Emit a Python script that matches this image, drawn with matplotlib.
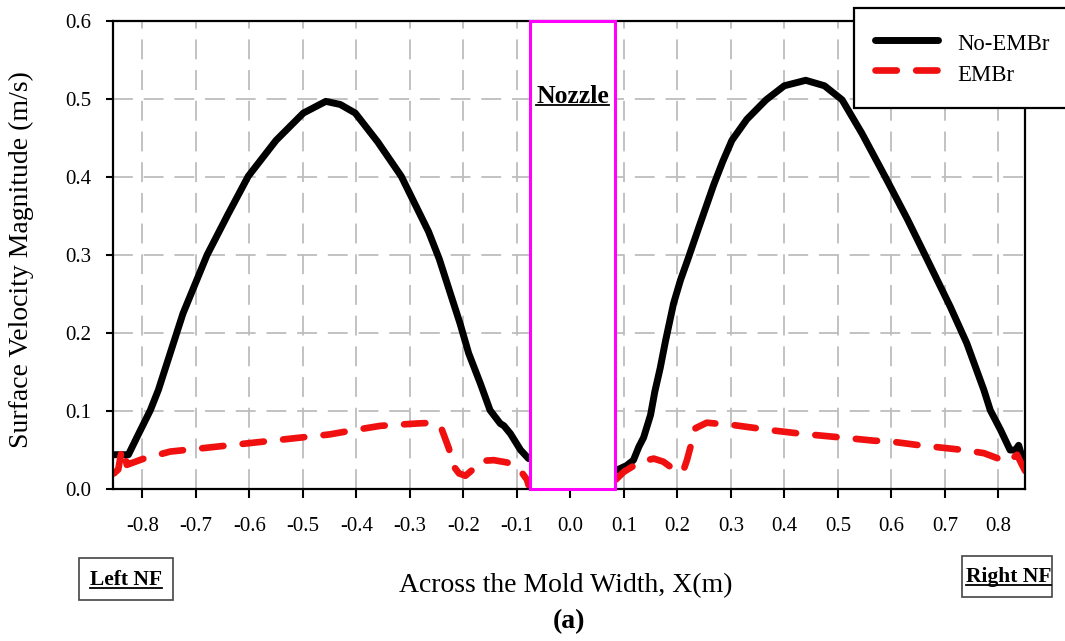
import matplotlib
matplotlib.use("Agg")
import matplotlib.pyplot as plt
from matplotlib.patches import Rectangle
from matplotlib.lines import Line2D

plt.rcParams["font.family"] = ["Liberation Serif", "DejaVu Serif"]
plt.rcParams["axes.unicode_minus"] = False

# --- data ---
no_embr_left_x = [-0.853, -0.826, -0.806, -0.785, -0.770, -0.724, -0.679, -0.640, -0.602,
                  -0.550, -0.499, -0.457, -0.430, -0.402, -0.360, -0.316, -0.265, -0.245,
                  -0.222, -0.206, -0.190, -0.168, -0.150, -0.131, -0.124, -0.112, -0.093, -0.078]
no_embr_left_y = [0.044, 0.044, 0.072, 0.101, 0.127, 0.225, 0.300, 0.352, 0.401,
                  0.447, 0.482, 0.497, 0.493, 0.482, 0.445, 0.401, 0.330, 0.295,
                  0.246, 0.212, 0.174, 0.135, 0.101, 0.084, 0.081, 0.071, 0.050, 0.039]

no_embr_right_x = [0.086, 0.105, 0.118, 0.128, 0.137, 0.150, 0.158, 0.168, 0.178, 0.193,
                   0.206, 0.220, 0.240, 0.268, 0.285, 0.302, 0.330, 0.366, 0.400, 0.440,
                   0.475, 0.508, 0.545, 0.588, 0.630, 0.663, 0.710, 0.741, 0.773, 0.785,
                   0.804, 0.822, 0.832, 0.838, 0.845, 0.850]
no_embr_right_y = [0.024, 0.030, 0.037, 0.054, 0.066, 0.095, 0.125, 0.155, 0.190, 0.238,
                   0.268, 0.295, 0.335, 0.390, 0.420, 0.447, 0.474, 0.499, 0.517, 0.524,
                   0.517, 0.499, 0.456, 0.401, 0.346, 0.300, 0.234, 0.187, 0.127, 0.101,
                   0.076, 0.050, 0.050, 0.056, 0.040, 0.033]

embr_left_x = [-0.853, -0.845, -0.838, -0.833, -0.829, -0.797, -0.748, -0.692, -0.611,
               -0.517, -0.450, -0.400, -0.355, -0.287, -0.255, -0.240, -0.227, -0.218,
               -0.208, -0.196, -0.184, -0.168, -0.143, -0.118, -0.097, -0.081, -0.078]
embr_left_y = [0.020, 0.025, 0.052, 0.045, 0.031, 0.039, 0.048, 0.052, 0.058,
               0.065, 0.070, 0.076, 0.081, 0.084, 0.085, 0.076, 0.052, 0.029,
               0.020, 0.017, 0.024, 0.036, 0.037, 0.034, 0.027, 0.012, 0.005]

embr_right_x = [0.085, 0.100, 0.131, 0.156, 0.174, 0.202, 0.212, 0.218, 0.234, 0.255,
                0.305, 0.380, 0.430, 0.523, 0.567, 0.598, 0.654, 0.735, 0.773, 0.816,
                0.828, 0.835, 0.845, 0.854]
embr_right_y = [0.012, 0.022, 0.035, 0.039, 0.035, 0.021, 0.025, 0.037, 0.078, 0.085,
                0.082, 0.075, 0.071, 0.065, 0.062, 0.061, 0.056, 0.050, 0.046, 0.035,
                0.040, 0.044, 0.030, 0.018]

x_ticks = [-0.8, -0.7, -0.6, -0.5, -0.4, -0.3, -0.2, -0.1, 0.0, 0.1, 0.2, 0.3, 0.4, 0.5, 0.6, 0.7, 0.8]
x_tick_labels = ["-0.8", "-0.7", "-0.6", "-0.5", "-0.4", "-0.3", "-0.2", "-0.1", "0.0",
                 "0.1", "0.2", "0.3", "0.4", "0.5", "0.6", "0.7", "0.8"]
y_ticks = [0.0, 0.1, 0.2, 0.3, 0.4, 0.5, 0.6]
y_tick_labels = ["0.0", "0.1", "0.2", "0.3", "0.4", "0.5", "0.6"]
nozzle_span = (-0.076, 0.084)

W_PX, H_PX = 1065, 641
fig = plt.figure(figsize=(W_PX / 100, H_PX / 100), dpi=100)
ax = fig.add_axes([0.106, 0.2371, 0.8565, 0.7301])

black_kw = dict(color="black", lw=5, solid_capstyle="round", solid_joinstyle="round")
red_kw = dict(color="#f01010", lw=4.8, dashes=(3.2, 2.9), dash_capstyle="round",
              dash_joinstyle="round")

ax.plot(no_embr_left_x, no_embr_left_y, zorder=2, **black_kw)
ax.plot(no_embr_right_x, no_embr_right_y, zorder=2, **black_kw)
ax.plot(embr_left_x, embr_left_y, zorder=2.2, **red_kw)
ax.plot(embr_right_x, embr_right_y, zorder=2.2, **red_kw)

# nozzle region
ax.add_patch(Rectangle((nozzle_span[0], 0.0), nozzle_span[1] - nozzle_span[0], 0.6,
                       facecolor="white", edgecolor="#ff00ff", lw=2.2, zorder=4, clip_on=False))
nozzle_txt = ax.text(sum(nozzle_span) / 2, 0.503, "Nozzle", ha="center", va="center",
                     fontsize=18.5, fontweight="bold", zorder=5)

ax.set_xlim(-0.855, 0.85)
ax.set_ylim(0.0, 0.6)
ax.set_xticks(x_ticks)
ax.set_xticklabels(x_tick_labels)
ax.set_yticks(y_ticks)
ax.set_yticklabels(y_tick_labels)
ax.tick_params(axis="x", direction="out", length=6.5, width=1.5, pad=14, labelsize=15)
ax.tick_params(axis="y", direction="out", length=5, width=1.5, pad=10.5, labelsize=15)
for sp in ax.spines.values():
    sp.set_linewidth(1.6)
ax.grid(True, color="#bdbdbd", lw=1.3, linestyle=(0, (11, 6)))
ax.set_axisbelow(True)

ax.set_xlabel("Across the Mold Width, X(m)", fontsize=20)
ax.xaxis.label.set_va("center")
ax.xaxis.set_label_coords(0.497, -0.207)
ax.set_ylabel("Surface Velocity Magnitude (m/s)", fontsize=20)
ax.yaxis.label.set_va("center")
ax.yaxis.set_label_coords(-0.0999, 0.491)

handles = [Line2D([], [], **black_kw), Line2D([], [], **red_kw)]
leg = fig.legend(handles, ["No-EMBr", "EMBr"], loc="upper left",
                 bbox_to_anchor=(854 / W_PX, 1 - 8 / H_PX), borderaxespad=0, fontsize=16.4,
                 handlelength=2.75, handletextpad=0.84, borderpad=0.93, labelspacing=0.15,
                 handleheight=1.45, fancybox=False, framealpha=1, edgecolor="black")
leg.get_frame().set_linewidth(1.6)

# "Left NF" / "Right NF" boxed notes below the axis
left_txt = fig.text(125.8 / W_PX, 1 - 580 / H_PX, "Left NF", ha="center", va="center",
                    fontsize=15.5, fontweight="bold")
right_txt = fig.text(1008.5 / W_PX, 1 - 577 / H_PX, "Right NF", ha="center", va="center",
                     fontsize=15.5, fontweight="bold")
for (x0, y0, x1, y1) in [(78.5, 558, 173, 600), (961.6, 555.7, 1051.9, 596.7)]:
    fig.add_artist(Rectangle((x0 / W_PX, 1 - y1 / H_PX), (x1 - x0) / W_PX, (y1 - y0) / H_PX,
                             transform=fig.transFigure, facecolor="none",
                             edgecolor="#444444", lw=1.2))

fig.text(569 / W_PX, 1 - 622 / H_PX, "(a)", ha="center", va="center", fontsize=20,
         fontweight="bold")

# underline the bold labels
fig.canvas.draw()
renderer = fig.canvas.get_renderer()
W, H = fig.bbox.width, fig.bbox.height
for t in (nozzle_txt, left_txt, right_txt):
    bb = t.get_window_extent(renderer)
    y_ul = bb.y0 + bb.height * 0.12
    fig.add_artist(Line2D([bb.x0 / W, bb.x1 / W], [y_ul / H, y_ul / H],
                          color="black", lw=1.3, zorder=6))

fig.savefig("out.png", dpi=100)
